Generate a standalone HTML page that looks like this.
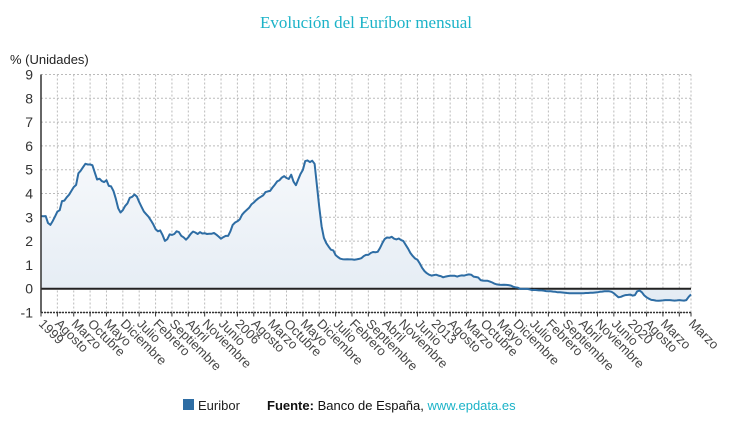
<!DOCTYPE html>
<html><head><meta charset="utf-8"><style>
body{margin:0;background:#fff;width:732px;height:431px;overflow:hidden;font-family:"Liberation Sans",sans-serif}
</style></head><body>
<svg width="732" height="431" xmlns="http://www.w3.org/2000/svg">
<defs><linearGradient id="g" x1="0" y1="0" x2="0" y2="1"><stop offset="0" stop-color="#f6f8fb"/><stop offset="1" stop-color="#e4ecf4"/></linearGradient></defs>
<text x="366" y="28" text-anchor="middle" font-family="Liberation Serif,serif" font-size="17" fill="#1cb3c8">Evolución del Euríbor mensual</text>
<text x="10" y="64" font-size="13" fill="#222">% (Unidades)</text>
<g id="grid"></g><g id="area"></g><g id="axes"></g>
<g>
<rect x="183" y="399" width="11" height="11" fill="#2e6da4"/>
<text x="198" y="410" font-size="13" fill="#222">Euribor</text>
<text x="267" y="410" font-size="13" fill="#111"><tspan font-weight="bold">Fuente:</tspan> Banco de España, <tspan fill="#1cb3c8">www.epdata.es</tspan></text>
</g>
</svg>
<script>
const values = [
3.05,3.04,3.05,2.76,2.68,2.84,3.03,3.24,3.30,3.68,3.70,3.84,
3.95,4.11,4.27,4.36,4.85,4.96,5.11,5.25,5.22,5.22,5.19,4.88,
4.59,4.62,4.52,4.48,4.56,4.32,4.30,4.10,3.78,3.38,3.20,3.30,
3.48,3.59,3.82,3.86,3.96,3.87,3.64,3.44,3.24,3.13,3.02,2.87,
2.71,2.50,2.41,2.45,2.25,2.01,2.08,2.28,2.26,2.30,2.41,2.38,
2.22,2.16,2.06,2.16,2.30,2.40,2.36,2.30,2.38,2.32,2.33,2.30,
2.31,2.31,2.34,2.27,2.19,2.10,2.17,2.22,2.22,2.41,2.68,2.78,
2.83,2.91,3.11,3.22,3.31,3.40,3.54,3.62,3.72,3.80,3.86,3.92,
4.06,4.09,4.11,4.25,4.37,4.51,4.56,4.67,4.73,4.65,4.61,4.79,
4.50,4.35,4.59,4.82,4.99,5.36,5.39,5.32,5.38,5.25,4.35,3.45,
2.62,2.14,1.91,1.77,1.64,1.61,1.41,1.33,1.26,1.24,1.23,1.24,
1.23,1.23,1.22,1.23,1.25,1.28,1.37,1.42,1.42,1.50,1.54,1.53,
1.55,1.71,1.92,2.09,2.15,2.14,2.18,2.10,2.07,2.11,2.04,2.00,
1.84,1.68,1.50,1.37,1.27,1.22,1.06,0.88,0.74,0.65,0.59,0.55,
0.57,0.59,0.55,0.53,0.48,0.51,0.53,0.54,0.54,0.54,0.51,0.54,
0.56,0.55,0.58,0.60,0.59,0.51,0.49,0.47,0.36,0.34,0.33,0.33,
0.30,0.26,0.21,0.18,0.17,0.16,0.17,0.16,0.15,0.13,0.08,0.06,
0.04,-0.01,-0.01,-0.01,-0.01,-0.03,-0.06,-0.05,-0.06,-0.07,-0.07,-0.08,
-0.10,-0.11,-0.11,-0.12,-0.13,-0.15,-0.15,-0.16,-0.17,-0.18,-0.19,-0.19,
-0.19,-0.19,-0.19,-0.19,-0.19,-0.18,-0.18,-0.17,-0.17,-0.16,-0.15,-0.13,
-0.12,-0.11,-0.11,-0.11,-0.13,-0.19,-0.28,-0.36,-0.34,-0.30,-0.27,-0.26,
-0.25,-0.29,-0.27,-0.11,-0.08,-0.15,-0.28,-0.36,-0.42,-0.47,-0.48,-0.50,
-0.51,-0.50,-0.49,-0.48,-0.48,-0.48,-0.49,-0.50,-0.49,-0.48,-0.49,-0.50,
-0.48,-0.34,-0.24];
const yTicks = [-1,0,1,2,3,4,5,6,7,8,9];
const monthNames = ["Enero","Febrero","Marzo","Abril","Mayo","Junio","Julio","Agosto","Septiembre","Octubre","Noviembre","Diciembre"];
const startYear = 1999;
const NS="http://www.w3.org/2000/svg";
const X0=41,X1=691,Y0=288.7,PU=23.8;
const xs=i=>X0+i*(X1-X0)/(values.length-1);
const ys=v=>Y0-v*PU;
function mk(t,a,p){const e=document.createElementNS(NS,t);for(const k in a)e.setAttribute(k,a[k]);p.appendChild(e);return e;}
const grid=document.getElementById('grid'),area=document.getElementById('area'),axes=document.getElementById('axes');
yTicks.forEach(v=>{
 const l=mk('line',{x1:X0,x2:X1,y1:ys(v),y2:ys(v),stroke:'#bbb','stroke-dasharray':'2,2'},grid);
 
 
 const t=mk('text',{x:X0-8,y:ys(v)+5,'text-anchor':'end','font-size':'14',fill:'#333'},axes);
 t.textContent=v;
 
 
});
const ticks=[];
for(let i=0;i<values.length;i+=7)ticks.push(i);
const last=values.length-1;
if(ticks[ticks.length-1]!==last)ticks.push(last);
ticks.forEach((i,k)=>{
 const x=xs(i);
 const l=mk('line',{x1:x,x2:x,y1:ys(9),y2:ys(-1),stroke:'#bbb','stroke-dasharray':'2,2'},grid);
 
 
 mk('line',{x1:x,x2:x,y1:ys(-1),y2:ys(-1)+4,stroke:'#333'},axes);
 if(i!==last && last-i<12) return;
 const m=i%12,y=startYear+Math.floor(i/12);
 const lab=m===0?String(y):monthNames[m];
 const t=mk('text',{x:x-3,y:ys(-1)+12,'font-size':'13',fill:'#444',transform:`rotate(45 ${x-3} ${ys(-1)+12})`},axes);
 t.textContent=lab;
 
 
});
let d='';values.forEach((v,i)=>{d+=(i?'L':'M')+xs(i).toFixed(1)+','+ys(v).toFixed(1);});
const a=mk('path',{d:d+`L${xs(last)},${Y0}L${X0},${Y0}Z`,fill:'url(#g)'},area);


const z=mk('line',{x1:X0,x2:X1,y1:Y0,y2:Y0,stroke:'#222','stroke-width':2},area);


const ln=mk('path',{d:d,fill:'none',stroke:'#2e6da4','stroke-width':2,'stroke-linejoin':'round'},area);


mk('line',{x1:X0,x2:X0,y1:ys(9),y2:ys(-1),stroke:'#333','stroke-width':1.5},axes);
mk('line',{x1:X0,x2:X1,y1:ys(-1),y2:ys(-1),stroke:'#333','stroke-width':1.5,'stroke-dasharray':'2,1'},axes);
</script>
</body></html>
